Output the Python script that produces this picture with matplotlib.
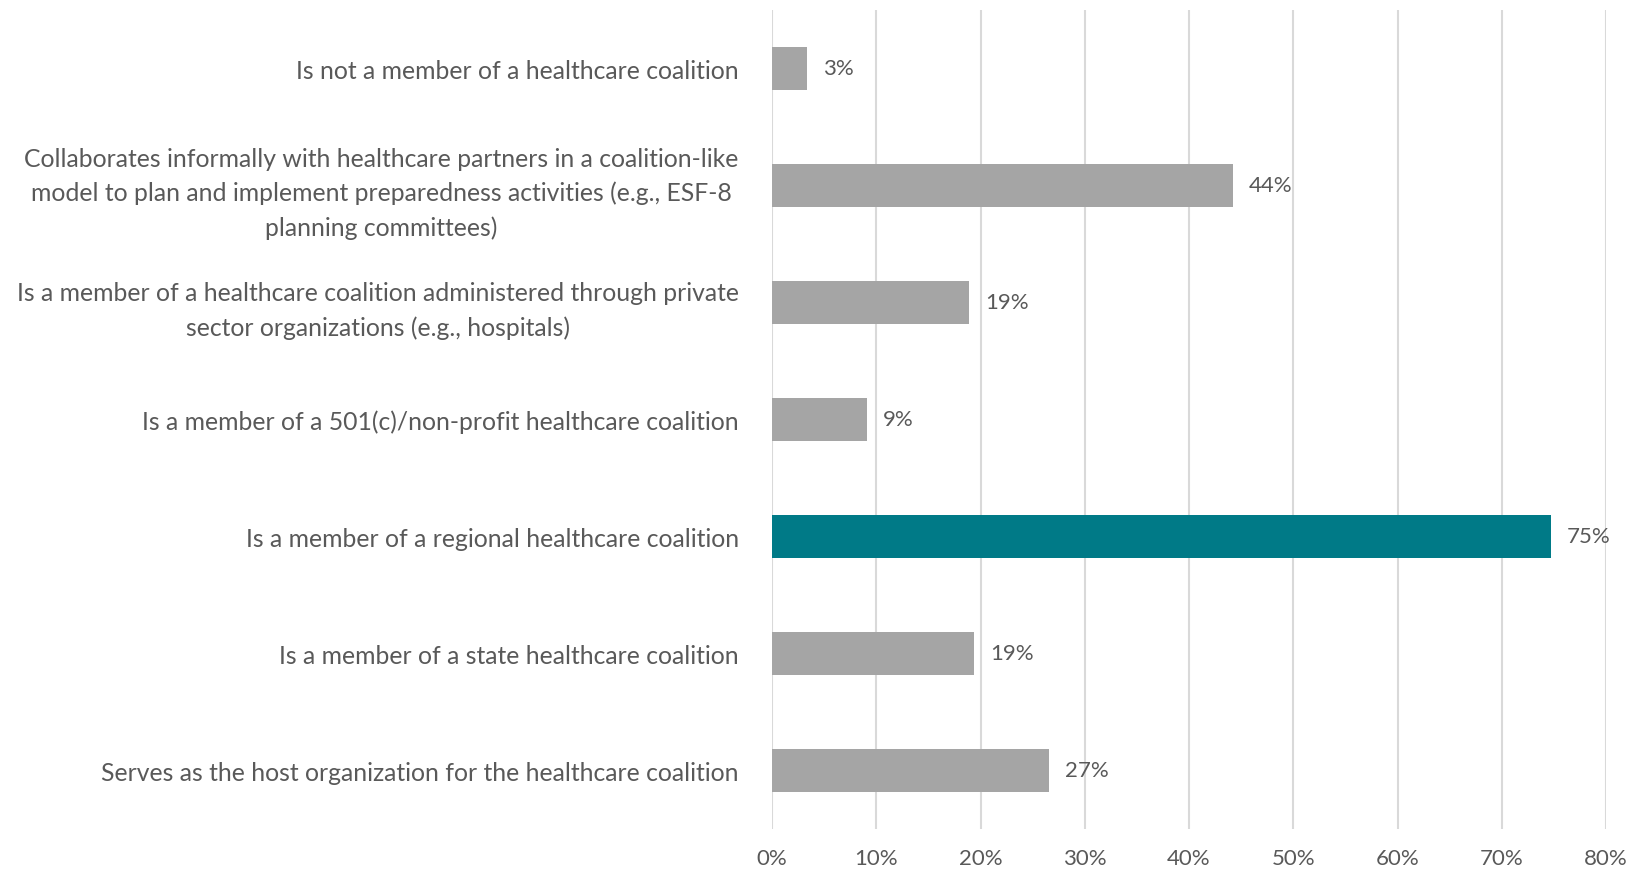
import numpy as np
import matplotlib.pyplot as plt
from matplotlib.ticker import MultipleLocator, PercentFormatter

plt.rcParams['font.family'] = ['Lato', 'DejaVu Sans']

# top-to-bottom order as drawn
categories = [
    "Is not a member of a healthcare coalition",
    "Collaborates informally with healthcare partners in a coalition-like\n"
    "model to plan and implement preparedness activities (e.g., ESF-8\n"
    "planning committees)",
    "Is a member of a healthcare coalition administered through private\n"
    "sector organizations (e.g., hospitals)",
    "Is a member of a 501(c)/non-profit healthcare coalition",
    "Is a member of a regional healthcare coalition",
    "Is a member of a state healthcare coalition",
    "Serves as the host organization for the healthcare coalition",
]
values = [3.4, 44.2, 18.9, 9.1, 74.7, 19.4, 26.6]
highlight = "Is a member of a regional healthcare coalition"

GRAY = "#A5A5A5"
TEAL = "#007A87"
TEXT = "#595959"

fig = plt.figure(figsize=(16.26, 8.7), dpi=100)
ax = fig.add_axes([0.4748, 0.046, 0.5129, 0.9414])

y = np.arange(len(categories))
colors = [TEAL if c == highlight else GRAY for c in categories]
bars = ax.barh(y, values, height=0.36, color=colors, zorder=3)

for bar, v in zip(bars, values):
    ax.annotate(f"{round(v):.0f}%", (bar.get_width(), bar.get_y() + bar.get_height() / 2),
                xytext=(16, 0), textcoords="offset pixels",
                va="center", ha="left", fontsize=16, color=TEXT)

ax.set_yticks(y)
ax.set_yticklabels(categories, ha="right", multialignment="center", linespacing=1.55)
ax.set_ylim(len(categories) - 0.5, -0.5)

ax.set_xlim(0, 80)
ax.xaxis.set_major_locator(MultipleLocator(10))
ax.xaxis.set_major_formatter(PercentFormatter(decimals=0))
ax.grid(axis="x", color="#D9D9D9", linewidth=1.5, zorder=0)

ax.tick_params(axis="y", length=0, pad=24, labelsize=17.8, labelcolor=TEXT)
ax.tick_params(axis="x", length=0, pad=14, labelsize=16, labelcolor=TEXT)
for s in ax.spines.values():
    s.set_visible(False)

fig.savefig("out.png", dpi=100)
